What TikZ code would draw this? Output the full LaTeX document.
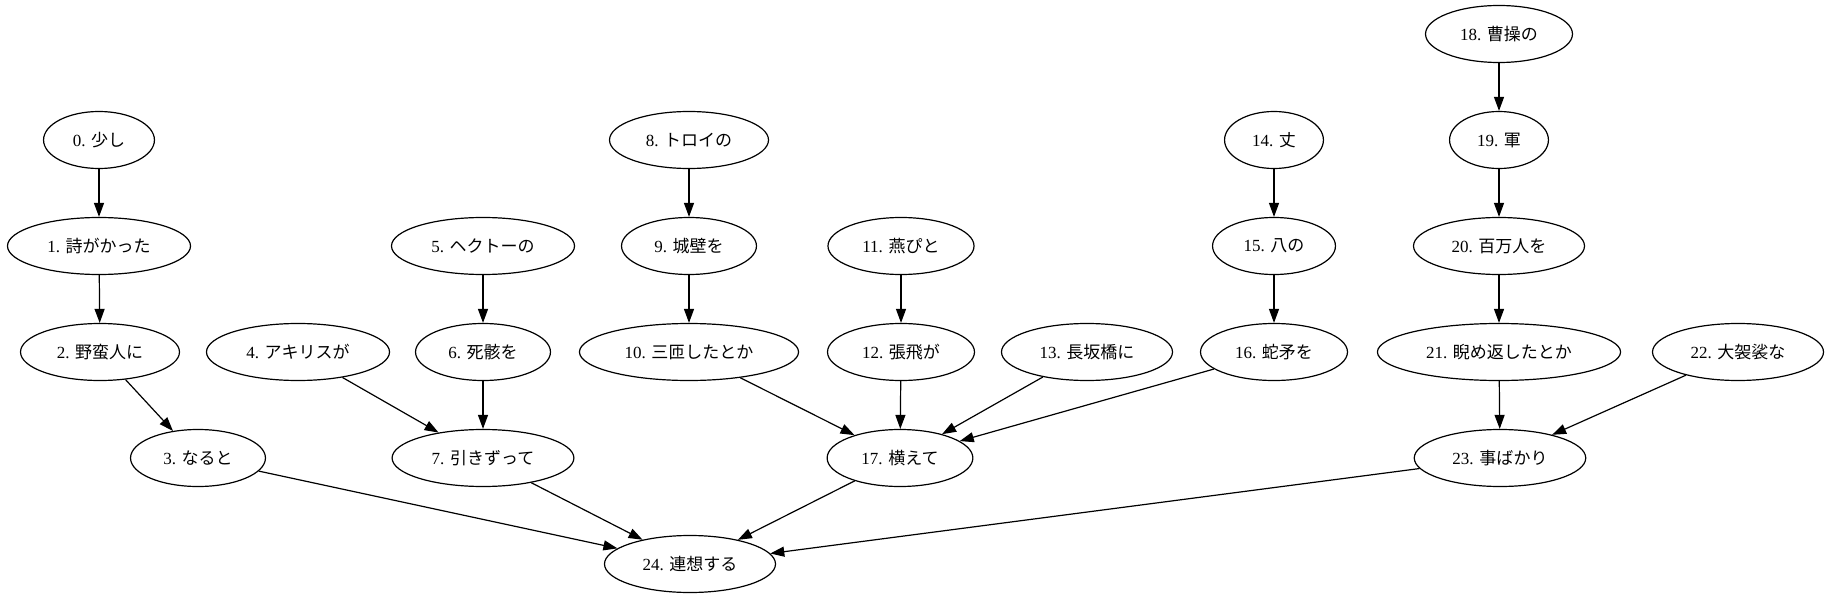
\documentclass[tikz,border=0pt]{standalone}
\usepackage{fontspec}
\setmainfont{Liberation Serif}
\newfontfamily\jp{Noto Sans CJK JP}
\usepackage{tikz}
\usetikzlibrary{arrows.meta,shapes.geometric}

\begin{document}
\begin{tikzpicture}[
    x=1pt, y=-1pt,
    word/.style={ellipse, draw, line width=1.2pt,
                inner xsep=13pt, inner ysep=4pt, minimum height=57pt,
                font=\fontsize{17}{20}\selectfont},
    link/.style={-{Triangle[length=14pt,width=10pt]}, line width=1.2pt},
]
\useasboundingbox (0,0) rectangle (1831,599);

% words, one column of ranks each
\node[word] (w0) at (99, 140) {0. {\jp 少し}};
\node[word] (w1) at (99, 246) {1. {\jp 詩がかった}};
\node[word] (w2) at (100, 352) {2. {\jp 野蛮人に}};
\node[word] (w3) at (198, 458) {3. {\jp なると}};

\node[word] (w4) at (298, 352) {4. {\jp アキリスが}};
\node[word] (w5) at (483, 246) {5. {\jp ヘクトーの}};
\node[word] (w6) at (483, 352) {6. {\jp 死骸を}};
\node[word] (w7) at (483, 458) {7. {\jp 引きずって}};

\node[word] (w8) at (689, 140) {8. {\jp トロイの}};
\node[word] (w9) at (689, 246) {9. {\jp 城壁を}};
\node[word] (w10) at (689, 352) {10. {\jp 三匝したとか}};

\node[word] (w11) at (901, 246) {11. {\jp 燕ぴと}};
\node[word] (w12) at (901, 352) {12. {\jp 張飛が}};
\node[word] (w13) at (1087, 352) {13. {\jp 長坂橋に}};

\node[word] (w14) at (1274, 140) {14. {\jp 丈}};
\node[word] (w15) at (1274, 246) {15. {\jp 八の}};
\node[word] (w16) at (1274, 352) {16. {\jp 蛇矛を}};
\node[word] (w17) at (900, 458) {17. {\jp 横えて}};

\node[word] (w18) at (1499, 34) {18. {\jp 曹操の}};
\node[word] (w19) at (1499, 140) {19. {\jp 軍}};
\node[word] (w20) at (1499, 246) {20. {\jp 百万人を}};
\node[word] (w21) at (1499, 352) {21. {\jp 睨め返したとか}};
\node[word] (w22) at (1738, 352) {22. {\jp 大袈裟な}};
\node[word] (w23) at (1500, 458) {23. {\jp 事ばかり}};

\node[word] (w24) at (690, 564) {24. {\jp 連想する}};

% dependencies
\draw[link] (w0) -- (w1);
\draw[link] (w1) -- (w2);
\draw[link] (w2) -- (w3);
\draw[link] (w3) -- (w24);
\draw[link] (w4) -- (w7);
\draw[link] (w5) -- (w6);
\draw[link] (w6) -- (w7);
\draw[link] (w7) -- (w24);
\draw[link] (w8) -- (w9);
\draw[link] (w9) -- (w10);
\draw[link] (w10) -- (w17);
\draw[link] (w11) -- (w12);
\draw[link] (w12) -- (w17);
\draw[link] (w13) -- (w17);
\draw[link] (w14) -- (w15);
\draw[link] (w15) -- (w16);
\draw[link] (w16) -- (w17);
\draw[link] (w17) -- (w24);
\draw[link] (w18) -- (w19);
\draw[link] (w19) -- (w20);
\draw[link] (w20) -- (w21);
\draw[link] (w21) -- (w23);
\draw[link] (w22) -- (w23);
\draw[link] (w23) -- (w24);

\end{tikzpicture}
\end{document}
